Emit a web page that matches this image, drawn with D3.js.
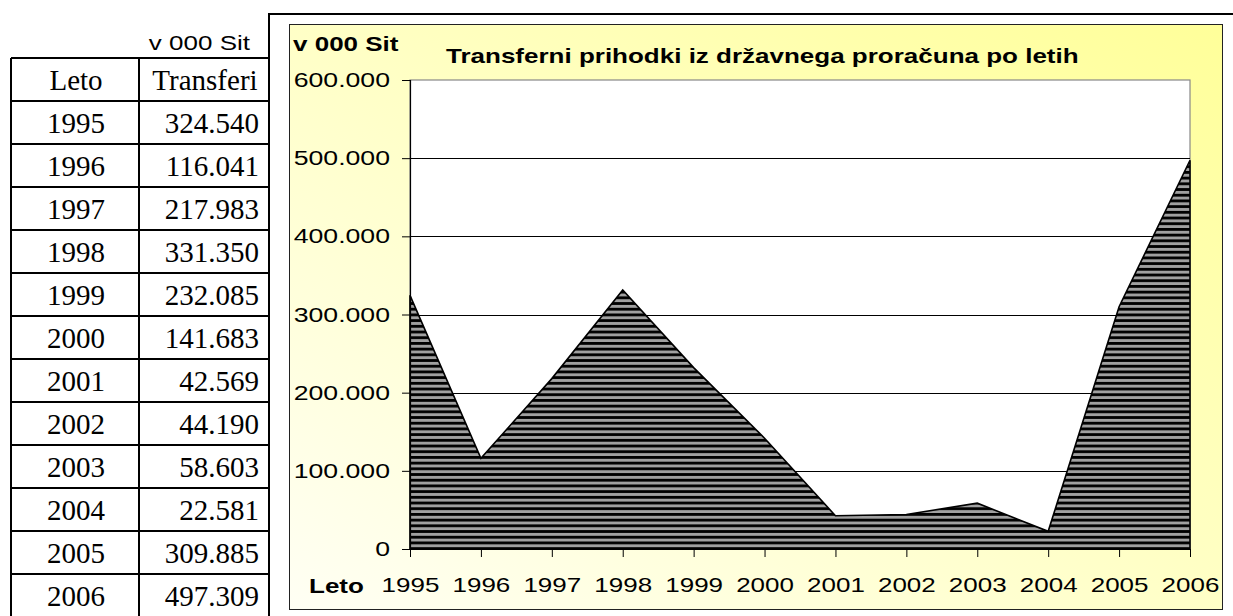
<!DOCTYPE html>
<html>
<head>
<meta charset="utf-8">
<script src="https://cdn.jsdelivr.net/npm/d3@7"></script>
<style>
  html, body { margin: 0; padding: 0; background: #fff; }
  svg { display: block; }
  .sans { font-family: "Liberation Sans", Arial, sans-serif; }
  .serif { font-family: "Liberation Serif", "Times New Roman", serif; }
</style>
</head>
<body>
<div id="chart"></div>
<script>
// --- data ---
const years = ["1995", "1996", "1997", "1998", "1999", "2000", "2001", "2002", "2003", "2004", "2005", "2006"];
const transfers = [324540, 116041, 217983, 331350, 232085, 141683, 42569, 44190, 58603, 22581, 309885, 497309];
const yTicks = [0, 100000, 200000, 300000, 400000, 500000, 600000];
const unitLabel = "v 000 Sit";
const tableHeader = ["Leto", "Transferi"];
const chartTitle = "Transferni prihodki iz državnega proračuna po letih";
const xAxisLabel = "Leto";

const W = 1233, H = 616;
const SX = 1.3; // the chart picture is stretched sideways
const sl = d3.formatLocale({ decimal: ",", thousands: ".", grouping: [3] });
const fmt = sl.format(",d");

const svg = d3.select("#chart").append("svg")
  .attr("width", W).attr("height", H);

// put a text at (x,y) and widen it horizontally
function wideText(parent, x, y, str) {
  return parent.append("text")
    .attr("transform", `translate(${x},${y}) scale(${SX},1)`)
    .text(str);
}

// move axis labels into a transform so they can be widened too
function widenAxisText(g) {
  g.selectAll(".tick text").each(function () {
    const t = d3.select(this);
    const tx = +t.attr("x") || 0, ty = +t.attr("y") || 0;
    t.attr("x", 0).attr("y", 0)
      .attr("transform", `translate(${tx},${ty}) scale(${SX},1)`);
  });
}

// --- table on the left ---
const tbl = { left: 11, mid: 139, right: 269, top: 58, rowH: 43 };
const rows = [tableHeader].concat(years.map((y, i) => [y, fmt(transfers[i])]));

wideText(svg, 250, 50, unitLabel)
  .attr("class", "sans")
  .attr("text-anchor", "end")
  .attr("font-size", 20);

const tg = svg.append("g").attr("class", "serif");
rows.forEach((r, i) => {
  const y0 = tbl.top + i * tbl.rowH;
  tg.append("line")
    .attr("x1", tbl.left).attr("x2", tbl.right)
    .attr("y1", y0).attr("y2", y0)
    .attr("stroke", "#000").attr("stroke-width", 2);
  tg.append("text")
    .attr("x", (tbl.left + tbl.mid) / 2 + 1).attr("y", y0 + 32)
    .attr("text-anchor", "middle")
    .attr("font-size", 29)
    .text(r[0]);
  tg.append("text")
    .attr("x", i === 0 ? (tbl.mid + tbl.right) / 2 + 1 : tbl.right - 10)
    .attr("y", y0 + 32)
    .attr("text-anchor", i === 0 ? "middle" : "end")
    .attr("font-size", 29)
    .text(r[1]);
});
[tbl.left, tbl.mid].forEach(x => {
  tg.append("line")
    .attr("x1", x).attr("x2", x)
    .attr("y1", tbl.top).attr("y2", H + 2)
    .attr("stroke", "#000").attr("stroke-width", 2);
});

// outer frame of the chart (shares the table's right border)
svg.append("path")
  .attr("d", `M${tbl.right},${H + 2}V14H${W + 2}`)
  .attr("fill", "none").attr("stroke", "#000").attr("stroke-width", 2);

// --- chart ---
const defs = svg.append("defs");
const grad = defs.append("linearGradient").attr("id", "bg")
  .attr("x1", "0%").attr("y1", "100%").attr("x2", "100%").attr("y2", "0%");
grad.append("stop").attr("offset", "0%").attr("stop-color", "#fffff4");
grad.append("stop").attr("offset", "100%").attr("stop-color", "#ffff99");

const pat = defs.append("pattern").attr("id", "stripes")
  .attr("patternUnits", "userSpaceOnUse")
  .attr("width", 8).attr("height", 5.7);
pat.append("rect").attr("width", 8).attr("height", 5.7).attr("fill", "#a0a0a0");
pat.append("rect").attr("width", 8).attr("height", 2.8).attr("fill", "#000");

const box = { x: 289, y: 24, w: 933, h: 585 };
svg.append("rect")
  .attr("x", box.x + 0.5).attr("y", box.y + 0.5)
  .attr("width", box.w).attr("height", box.h)
  .attr("fill", "url(#bg)")
  .attr("stroke", "#222").attr("stroke-width", 1);

const plot = { left: 410, right: 1190, top: 80, bottom: 549 };

const x = d3.scalePoint().domain(years).range([plot.left, plot.right]);
const y = d3.scaleLinear().domain([0, 600000]).range([plot.bottom, plot.top]);

// plot area
svg.append("rect")
  .attr("x", plot.left).attr("y", plot.top)
  .attr("width", plot.right - plot.left).attr("height", plot.bottom - plot.top)
  .attr("fill", "#fff")
  .attr("stroke", "#888").attr("stroke-width", 1.2);

// gridlines
svg.append("g")
  .selectAll("line")
  .data(yTicks.filter(t => t > 0 && t < 600000))
  .join("line")
  .attr("x1", plot.left).attr("x2", plot.right)
  .attr("y1", d => Math.round(y(d)) + 0.5).attr("y2", d => Math.round(y(d)) + 0.5)
  .attr("stroke", "#000").attr("stroke-width", 1);

// area
const area = d3.area()
  .x((d, i) => x(years[i]))
  .y0(y(0))
  .y1(d => y(d));

svg.append("path")
  .datum(transfers)
  .attr("d", area)
  .attr("fill", "url(#stripes)")
  .attr("stroke", "#000")
  .attr("stroke-width", 1.6)
  .attr("stroke-linejoin", "miter");

// y axis
const yAxis = svg.append("g")
  .attr("class", "sans")
  .attr("transform", `translate(${plot.left},0)`)
  .call(d3.axisLeft(y).tickValues(yTicks).tickFormat(fmt).tickSize(8).tickPadding(12));
yAxis.select(".domain").attr("stroke", "#000").attr("stroke-width", 1.2).attr("d", `M0.5,${plot.top}V${plot.bottom}`);
yAxis.selectAll("text").attr("font-size", 20.5).attr("fill", "#000").attr("font-family", null);
widenAxisText(yAxis);

// x axis
const xAxis = svg.append("g")
  .attr("class", "sans")
  .attr("transform", `translate(0,${plot.bottom})`)
  .call(d3.axisBottom(x).tickSize(8).tickPadding(21));
xAxis.select(".domain").attr("stroke", "#000").attr("stroke-width", 1.2).attr("d", `M${plot.left},0.5H${plot.right}`);
xAxis.selectAll("text").attr("font-size", 20).attr("fill", "#000").attr("font-family", null);
widenAxisText(xAxis);

// labels
wideText(svg, 293, 51, unitLabel)
  .attr("class", "sans")
  .attr("font-size", 20).attr("font-weight", "bold");

wideText(svg, 446, 63, chartTitle)
  .attr("class", "sans")
  .attr("font-size", 20).attr("font-weight", "bold");

wideText(svg, 309, 593, xAxisLabel)
  .attr("class", "sans")
  .attr("font-size", 20).attr("font-weight", "bold");
</script>
</body>
</html>
